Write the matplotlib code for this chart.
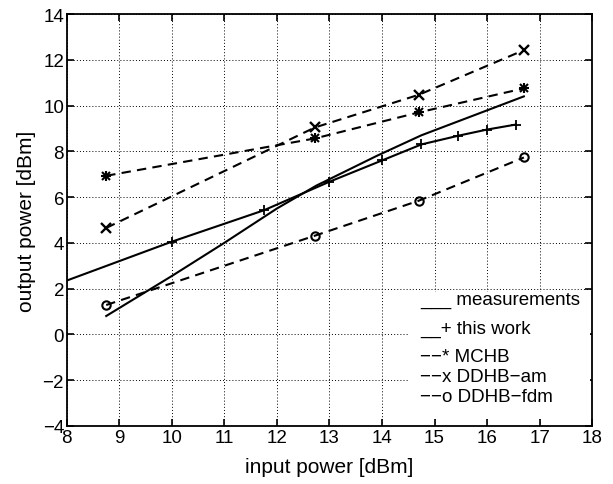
import numpy as np
import matplotlib
matplotlib.use('Agg')
import matplotlib.pyplot as plt
from matplotlib.patches import Rectangle

plt.rcParams['font.family'] = ['Liberation Sans', 'DejaVu Sans']

# ------------------------- data -------------------------
meas_x = [8.75, 10.0, 11.0, 12.0, 12.75, 13.9, 14.75, 16.7]
meas_y = [0.8, 2.55, 4.0, 5.5, 6.5, 7.8, 8.7, 10.4]

work_x = [8.0, 10.0, 11.75, 13.0, 14.0, 14.75, 15.45, 16.0, 16.55]
work_y = [2.35, 4.05, 5.42, 6.67, 7.6, 8.3, 8.68, 8.95, 9.17]

pin = [8.75, 12.72, 14.7, 16.7]
mchb = [6.93, 8.56, 9.70, 10.75]
ddhb_am = [4.65, 9.04, 10.47, 12.42]
ddhb_fdm = [1.28, 4.31, 5.84, 7.73]

legend_lines = ['___ measurements', '__+ this work', '\u2212\u2212* MCHB',
                '\u2212\u2212x DDHB\u2212am', '\u2212\u2212o DDHB\u2212fdm']
legend_y = [1.35, 0.05, -1.15, -2.02, -2.9]

# ------------------------------- plotting -----------------------------------
fig = plt.figure(figsize=(6.13, 4.85), dpi=100)
ax = fig.add_axes([0.109, 0.12, 0.857, 0.849])

lw = 1.5
dash = (4.5, 3)
ax.plot(meas_x, meas_y, 'k-', lw=lw, zorder=3)
ax.plot(work_x, work_y, 'k-', lw=lw, marker='+', ms=7, mew=1.3,
        markevery=list(range(1, len(work_x))), zorder=3)
# MATLAB style asterisk: a plus and a cross on top of each other
ax.plot(pin, mchb, 'k--', lw=lw, marker='+', ms=7, mew=1.5, dashes=dash, zorder=3)
ax.plot(pin, mchb, 'none', marker='x', ms=6, mew=1.5, mec='k', zorder=3)
ax.plot(pin, ddhb_am, 'k--', lw=lw, marker='x', ms=6.5, mew=1.7, dashes=dash, zorder=3)
ax.plot(pin, ddhb_fdm, 'k--', lw=lw, marker='o', ms=6, mfc='none', mew=1.5,
        dashes=dash, zorder=3)

ax.set_xlim(8, 18)
ax.set_ylim(-4, 14)
ax.set_xticks(np.arange(8, 19, 1))
ax.set_yticks(np.arange(-4, 15, 2))
ax.grid(True, color='k', linestyle=(0, (1, 2.2)), linewidth=0.7)
ax.tick_params(direction='in', top=True, right=True, length=5, width=1.2,
               labelsize=13.5)
ax.tick_params(axis='x', pad=2.5)
ax.tick_params(axis='y', pad=2)
for s in ax.spines.values():
    s.set_linewidth(1.3)

# legend box drawn as text, like the original
ax.add_patch(Rectangle((14.5, -3.7), 3.45, 5.55, facecolor='white',
                       edgecolor='none', zorder=2))
for txt, yy in zip(legend_lines, legend_y):
    ax.text(14.72, yy, txt, fontsize=13.5, va='baseline', zorder=4)

ax.set_xlabel('input power [dBm]', fontsize=15, labelpad=8)
ax.set_ylabel('output power [dBm]', fontsize=15, labelpad=5)

fig.savefig('out.png', dpi=100)
